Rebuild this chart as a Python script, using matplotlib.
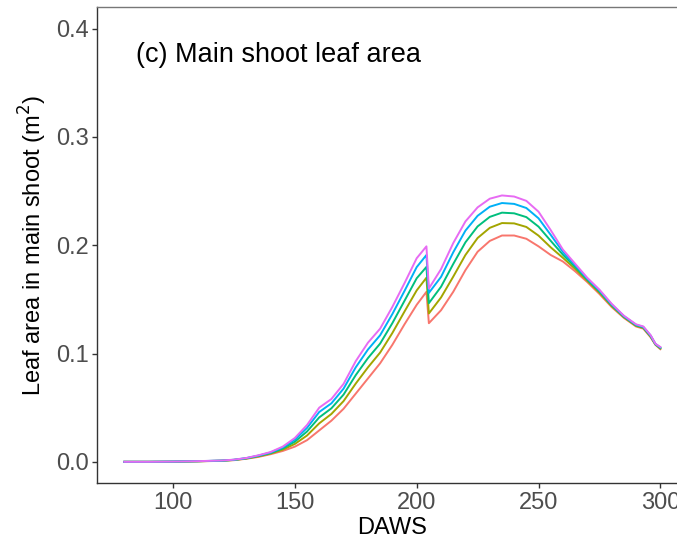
import matplotlib.pyplot as plt

plt.rcParams["font.family"] = ["Liberation Sans", "DejaVu Sans"]

daws = [80, 90, 100, 110, 120, 125, 130, 135, 140, 145, 150, 155, 160, 165, 170,
        175, 180, 185, 190, 195, 200, 204, 205, 210, 215, 220, 225, 230, 235, 240,
        245, 250, 255, 260, 265, 270, 275, 280, 285, 290, 293, 296, 298, 300]

red = [0.0, 0.0, 0.0001, 0.0004, 0.0009, 0.0015, 0.0028, 0.0045, 0.007, 0.010,
       0.014, 0.020, 0.029, 0.038, 0.049, 0.063, 0.077, 0.091, 0.108, 0.127,
       0.145, 0.157, 0.128, 0.140, 0.157, 0.177, 0.194, 0.204, 0.209, 0.209,
       0.206, 0.199, 0.191, 0.185, 0.176, 0.166, 0.155, 0.143, 0.133, 0.125,
       0.123, 0.115, 0.108, 0.104]

olive = [0.0, 0.0, 0.0001, 0.0005, 0.001, 0.0017, 0.003, 0.005, 0.0076, 0.0112,
         0.0165, 0.0243, 0.0355, 0.0442, 0.0561, 0.0723, 0.0872, 0.1009, 0.1189, 0.1388,
         0.1583, 0.170, 0.137, 0.1518, 0.171, 0.191, 0.2067, 0.2161, 0.2205, 0.2202,
         0.2169, 0.2089, 0.1981, 0.1884, 0.1782, 0.1672, 0.1562, 0.1439, 0.1336, 0.1256,
         0.1236, 0.1156, 0.1083, 0.1046]

green = [0.0, 0.0, 0.0002, 0.0005, 0.0011, 0.0018, 0.0032, 0.0054, 0.0081, 0.0123,
         0.0186, 0.028, 0.041, 0.0494, 0.0621, 0.0801, 0.0958, 0.1092, 0.128, 0.1487,
         0.1695, 0.180, 0.1465, 0.1617, 0.1827, 0.2027, 0.2174, 0.2262, 0.2301, 0.2295,
         0.226, 0.2172, 0.2041, 0.1913, 0.18, 0.1683, 0.1573, 0.1447, 0.1341, 0.1261,
         0.1241, 0.1161, 0.1086, 0.1051]

blue = [0.0, 0.0, 0.0002, 0.0006, 0.0011, 0.0019, 0.0034, 0.0057, 0.0086, 0.0132,
        0.0205, 0.0313, 0.046, 0.054, 0.0676, 0.0873, 0.1037, 0.1169, 0.1364, 0.1578,
        0.1798, 0.191, 0.156, 0.1708, 0.1935, 0.2135, 0.2272, 0.2356, 0.239, 0.2382,
        0.2344, 0.2249, 0.2096, 0.1939, 0.1817, 0.1692, 0.1582, 0.1454, 0.1346, 0.1266,
        0.1246, 0.1166, 0.1088, 0.1056]

magenta = [0.0, 0.0, 0.0002, 0.0006, 0.0012, 0.002, 0.0035, 0.006, 0.009, 0.014,
           0.022, 0.034, 0.050, 0.058, 0.072, 0.093, 0.110, 0.123, 0.143, 0.165,
           0.188, 0.199, 0.160, 0.178, 0.202, 0.222, 0.235, 0.243, 0.246, 0.245,
           0.241, 0.231, 0.214, 0.196, 0.183, 0.170, 0.159, 0.146, 0.135, 0.127,
           0.125, 0.117, 0.109, 0.106]

series = [red, olive, green, blue, magenta]
colors = ["#F8766D", "#A3A500", "#00BF7D", "#00B0F6", "#E76BF3"]

fig = plt.figure(figsize=(6.77, 5.42), dpi=100)
ax = fig.add_axes([0.144, 0.108, 0.871, 0.879])

for vals, col in zip(series, colors):
    ax.plot(daws, vals, color=col, lw=1.4)

ax.set_xlim(69, 311)
ax.set_ylim(-0.02, 0.42)
ax.set_xticks([100, 150, 200, 250, 300])
ax.set_yticks([0.0, 0.1, 0.2, 0.3, 0.4])
ax.set_yticklabels(["0.0", "0.1", "0.2", "0.3", "0.4"])

for s in ax.spines.values():
    s.set_color("#333333")
    s.set_linewidth(1.0)
ax.spines["top"].set_color("#777777")
ax.tick_params(colors="#333333", labelcolor="#4D4D4D", labelsize=17, length=3.5, width=1, pad=3)

ax.set_xlabel("DAWS", fontsize=17, labelpad=2)
ax.set_ylabel("Leaf area in main shoot (m$^2$)", fontsize=17, labelpad=5)

ax.text(85, 0.376, "(c) Main shoot leaf area", fontsize=19.5, ha="left", va="center")

fig.savefig("out.png", dpi=100)
